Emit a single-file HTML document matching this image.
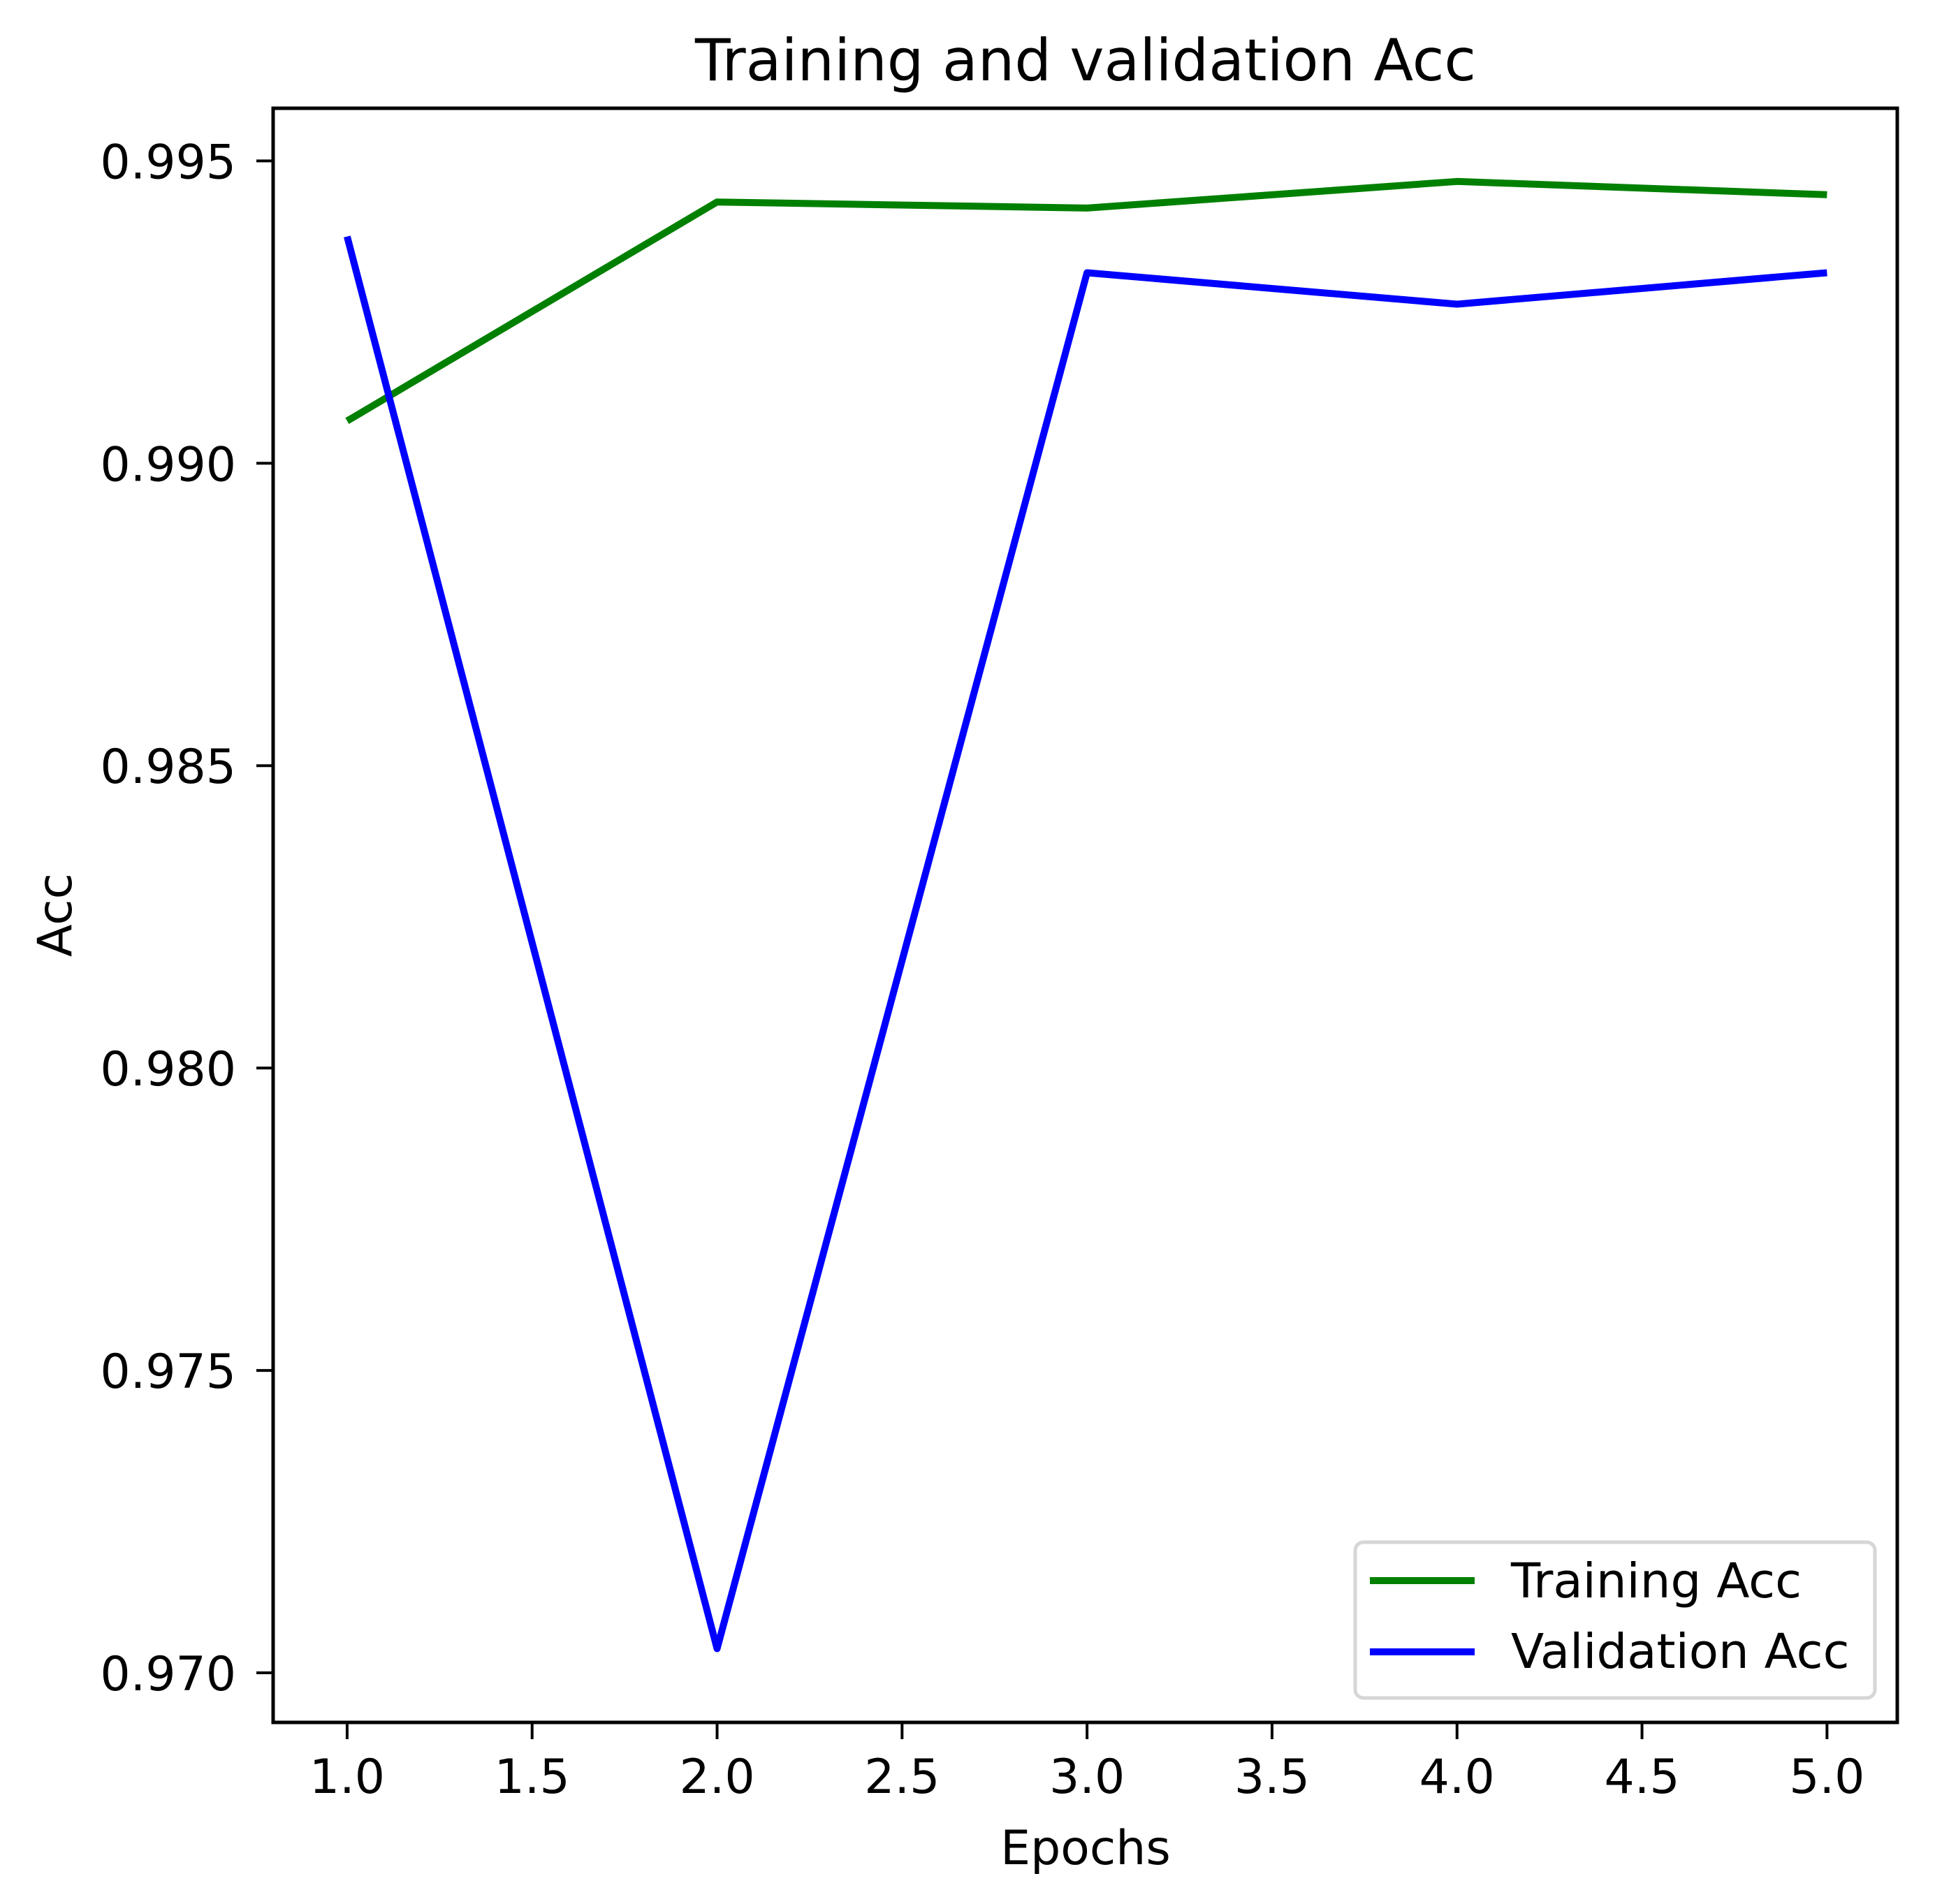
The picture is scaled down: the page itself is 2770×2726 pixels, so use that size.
<!DOCTYPE html>
<html><head><meta charset="utf-8"><style>
html,body{margin:0;padding:0;background:#fff;}
svg{display:block;font-family:"DejaVu Sans","Liberation Sans",sans-serif;}
</style></head><body>
<svg id="chart" width="2770" height="2726" viewBox="0 0 2770 2726" xmlns="http://www.w3.org/2000/svg">
<rect width="2770" height="2726" fill="#fff"/>
<text x="1554" y="115" font-size="83" text-anchor="middle">Training and validation Acc</text>
<g id="plot"></g>
<text x="1554" y="2669" font-size="68" text-anchor="middle">Epochs</text>
<text x="0" y="0" font-size="68" text-anchor="middle" transform="translate(102,1310) rotate(-90)">Acc</text>
<g>
<rect x="1940" y="2208" width="744" height="223" rx="12" fill="#fff" fill-opacity="0.8" stroke="#d6d6d6" stroke-width="5"/>
<line x1="1961" y1="2263" x2="2111" y2="2263" stroke="#008000" stroke-width="10"/>
<text x="2163" y="2287" font-size="69">Training Acc</text>
<line x1="1961" y1="2365" x2="2111" y2="2365" stroke="#0000ff" stroke-width="10"/>
<text x="2163" y="2388" font-size="69">Validation Acc</text>
</g>
</svg>
<script>
const epochs = [1, 2, 3, 4, 5];
const trainingAcc = [0.9907, 0.99432, 0.99422, 0.99466, 0.99444];
const validationAcc = [0.99375, 0.9704, 0.99315, 0.99263, 0.99315];
const xTicks = [1.0, 1.5, 2.0, 2.5, 3.0, 3.5, 4.0, 4.5, 5.0];
const xTickLabels = ["1.0","1.5","2.0","2.5","3.0","3.5","4.0","4.5","5.0"];
const yTicks = [0.970, 0.975, 0.980, 0.985, 0.990, 0.995];
const yTickLabels = ["0.970","0.975","0.980","0.985","0.990","0.995"];

const L=391, R=2716, T=155, B=2466;
const xMin=0.8, xMax=5.19, yMin=0.96918, yMax=0.99587;
function sx(v){return L+(v-xMin)/(xMax-xMin)*(R-L);}
function sy(v){return B-(v-yMin)/(yMax-yMin)*(B-T);}
const NS="http://www.w3.org/2000/svg";
const g=document.getElementById('plot');
function mk(tag,attrs){const e=document.createElementNS(NS,tag);for(const k in attrs)e.setAttribute(k,attrs[k]);return e;}

function series(vals,color,name){
  const pts=epochs.map((x,i)=>sx(x).toFixed(1)+','+sy(vals[i]).toFixed(1)).join(' ');
  const p=mk('polyline',{points:pts,fill:'none',stroke:color,'stroke-width':10,'stroke-linejoin':'round','stroke-linecap':'butt'});
  
  
  g.appendChild(p);
}
series(trainingAcc,'#008000','training-acc-line');
series(validationAcc,'#0000ff','validation-acc-line');

xTicks.forEach((v,i)=>{
  const t=mk('line',{x1:sx(v),x2:sx(v),y1:B,y2:B+24,stroke:'#000','stroke-width':4});
  
  
  g.appendChild(t);
  const l=mk('text',{x:sx(v),y:2567,'font-size':68,'text-anchor':'middle'});
  
  
  l.textContent=xTickLabels[i];
  g.appendChild(l);
});
yTicks.forEach((v,i)=>{
  const t=mk('line',{x1:L-24,x2:L,y1:sy(v),y2:sy(v),stroke:'#000','stroke-width':4});
  
  
  g.appendChild(t);
  const l=mk('text',{x:338,y:sy(v)+25,'font-size':68,'text-anchor':'end'});
  
  
  l.textContent=yTickLabels[i];
  g.appendChild(l);
});
const frame=mk('rect',{x:L,y:T,width:R-L,height:B-T,fill:'none',stroke:'#000','stroke-width':5});


g.appendChild(frame);
</script>
</body></html>
